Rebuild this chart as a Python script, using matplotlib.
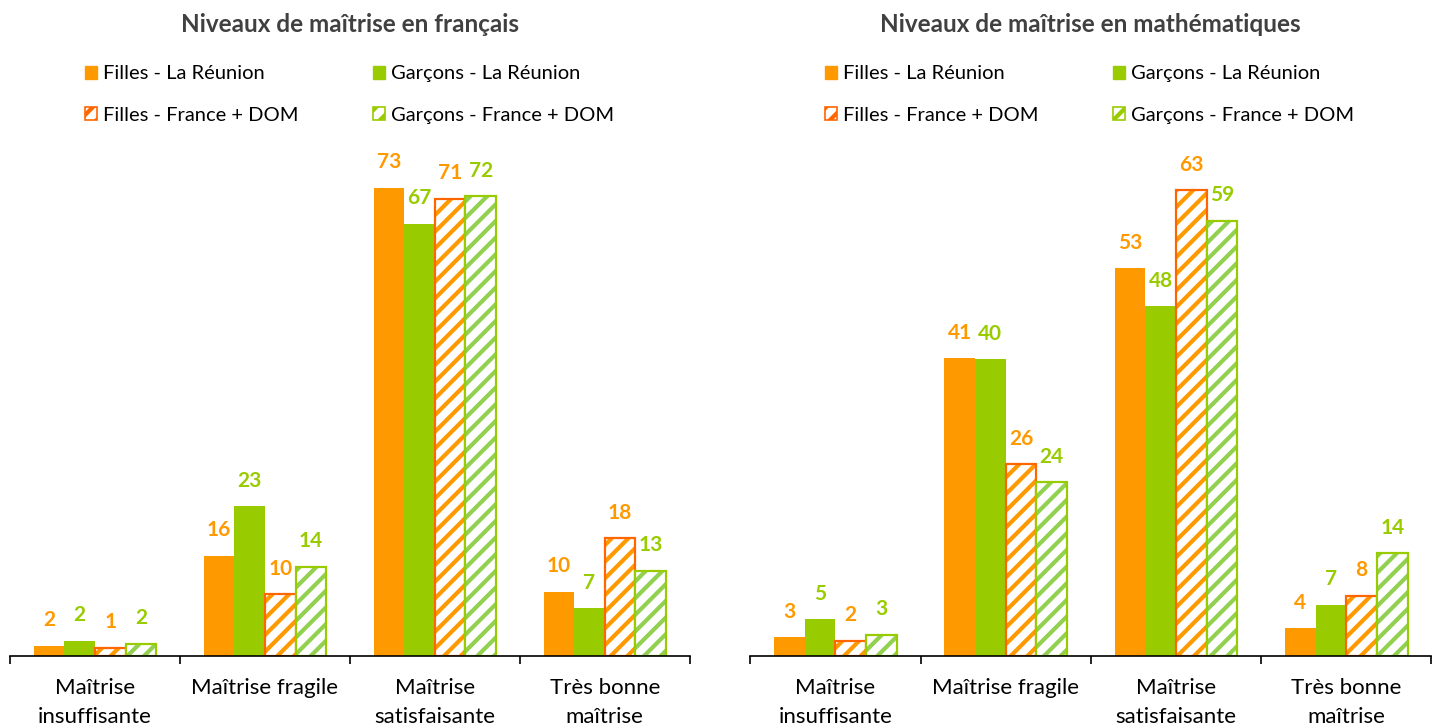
import matplotlib
matplotlib.use('Agg')
import matplotlib.pyplot as plt
import numpy as np
from matplotlib.patches import Patch

plt.rcParams['font.family'] = ['Lato', 'DejaVu Sans']
plt.rcParams['hatch.linewidth'] = 3.0

categories = ['Maîtrise\ninsuffisante', 'Maîtrise fragile',
              'Maîtrise\nsatisfaisante', 'Très bonne\nmaîtrise']
series_names = ['Filles - La Réunion', 'Garçons - La Réunion',
                'Filles - France + DOM', 'Garçons - France + DOM']

# values (labels show them rounded)
fr_filles_reunion = [1.6, 15.6, 72.9, 10.0]
fr_garcons_reunion = [2.4, 23.3, 67.3, 7.4]
fr_filles_france = [1.3, 9.6, 71.2, 18.3]
fr_garcons_france = [1.9, 13.9, 71.6, 13.3]

ma_filles_reunion = [2.6, 40.6, 52.8, 3.8]
ma_garcons_reunion = [5.0, 40.4, 47.6, 7.0]
ma_filles_france = [2.1, 26.1, 63.4, 8.2]
ma_garcons_france = [2.9, 23.7, 59.3, 14.0]

ORANGE = '#FF9900'
ORANGE_EDGE = '#FF6600'
GREEN = '#99CC00'
GREEN_HATCH = '#92D050'

# fill/hatch colour, edge colour, label colour per series
styles = [
    dict(solid=True, color=ORANGE, edge=ORANGE, text=ORANGE),
    dict(solid=True, color=GREEN, edge=GREEN, text=GREEN),
    dict(solid=False, color=ORANGE, edge=ORANGE_EDGE, text=ORANGE),
    dict(solid=False, color=GREEN_HATCH, edge=GREEN, text=GREEN),
]


def draw_panel(ax, title, data, ymax):
    x = np.arange(len(categories))
    width = 0.18
    offsets = (np.arange(4) - 1.5) * width
    for vals, off, st in zip(data, offsets, styles):
        if st['solid']:
            ax.bar(x + off, vals, width, color=st['color'], linewidth=0)
        else:
            ax.bar(x + off, vals, width, facecolor='white', edgecolor=st['color'],
                   hatch='//', linewidth=0)
            ax.bar(x + off, vals, width, fill=False, edgecolor=st['edge'],
                   linewidth=1.6)
        for xi, v in zip(x + off, vals):
            ax.annotate(f'{v:.0f}', (xi, v), xytext=(0, 11), textcoords='offset points',
                        ha='center', va='bottom', fontsize=15, fontweight='bold',
                        color=st['text'])

    ax.set_xlim(-0.5, len(categories) - 0.5)
    ax.set_ylim(0, ymax)
    for s in ['left', 'right', 'top']:
        ax.spines[s].set_visible(False)
    ax.spines['bottom'].set_linewidth(1.2)
    ax.set_yticks([])
    ax.set_xticks(x)
    ax.set_xticklabels(categories, fontsize=16, linespacing=1.55)
    ax.tick_params(axis='x', which='major', length=0, pad=16)
    ax.set_xticks(np.arange(len(categories) + 1) - 0.5, minor=True)
    ax.tick_params(axis='x', which='minor', length=6, width=1.2, direction='out')

    ax.set_title(title, fontsize=17.5, fontweight='bold', color='#404040', pad=0,
                 y=1.228, va='center')

    handles = []
    for name, st in zip(series_names, styles):
        if st['solid']:
            handles.append(Patch(facecolor=st['color'], edgecolor=st['color'], label=name))
        else:
            handles.append(Patch(facecolor='white', edgecolor=st['edge'], hatch='//',
                                 linewidth=1.2, label=name))
    order = [0, 2, 1, 3]
    ax.legend([handles[i] for i in order], [series_names[i] for i in order],
              ncol=2, loc='upper left', bbox_to_anchor=(0.11, 1.149), frameon=False,
              fontsize=14.5, handlelength=0.6, handleheight=0.6, handletextpad=0.3,
              columnspacing=3.7, labelspacing=1.2, borderaxespad=0, borderpad=0)


fig = plt.figure(figsize=(14.4, 7.27), dpi=100)
ax1 = fig.add_axes([0.007, 0.0977, 0.472, 0.707])
ax2 = fig.add_axes([0.521, 0.0977, 0.473, 0.707])

draw_panel(ax1, 'Niveaux de maîtrise en français',
           [fr_filles_reunion, fr_garcons_reunion, fr_filles_france, fr_garcons_france], 80)
draw_panel(ax2, 'Niveaux de maîtrise en mathématiques',
           [ma_filles_reunion, ma_garcons_reunion, ma_filles_france, ma_garcons_france], 70)

fig.savefig('out.png', dpi=100)
